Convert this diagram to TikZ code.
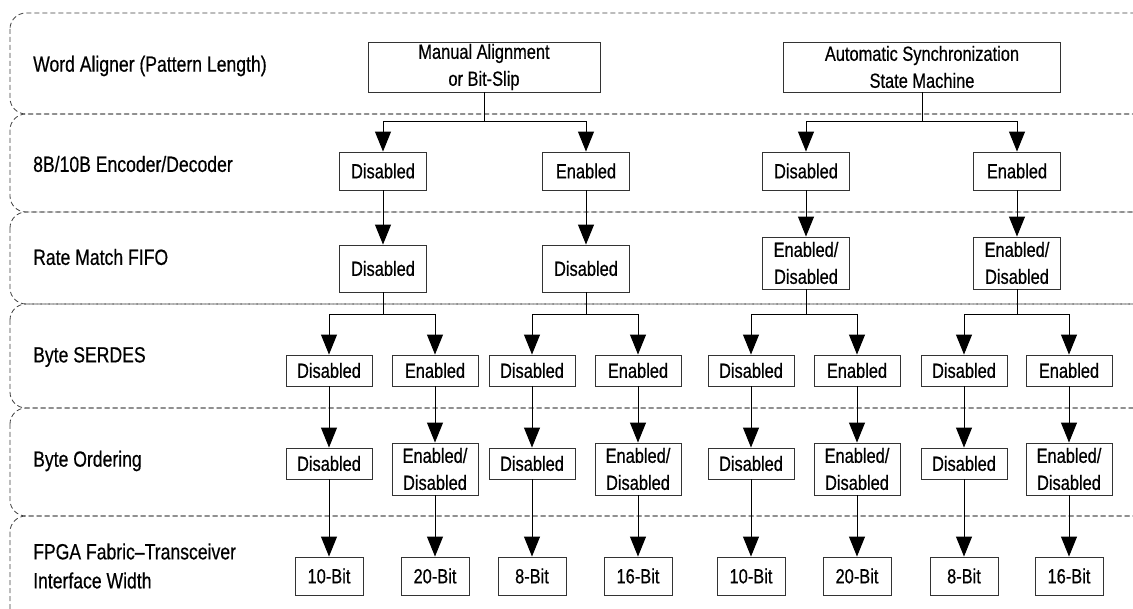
\documentclass[tikz,border=0pt]{standalone}
\usepackage{fontspec}
\setmainfont{Liberation Sans}[FakeStretch=0.8,FakeBold=0.5]
\usetikzlibrary{arrows.meta}
\begin{document}
\begin{tikzpicture}[x=1pt,y=-1pt,
  txt/.style={font=\fontsize{20.5}{27}\selectfont},
  band/.style={draw=black!75, dash pattern=on 5pt off 3pt, line width=0.8pt, rounded corners=16pt},
  box/.style={txt, draw=black!80, line width=0.9pt, inner sep=0pt, align=center},
  hbox/.style={box, minimum height=50pt},
  b87/.style={box, minimum width=87pt},
  bs/.style={box, minimum width=86pt, minimum height=31pt},
  bd/.style={box, minimum width=86pt, minimum height=52pt},
  bw/.style={box, minimum width=68pt, minimum height=38pt},
  lab/.style={font=\fontsize{22}{29}\selectfont, anchor=west, inner sep=0pt, align=left},
  ln/.style={draw=black, line width=1pt},
  arr/.style={ln, -{Triangle[width=16pt,length=20pt]}}]
\useasboundingbox (0,0) rectangle (1133,609);
% bands
\begin{scope}
  \clip (0,0) rectangle (1133,609);
  \draw[band] (10,13) rectangle (1150,114);
  \draw[band] (10,114) rectangle (1150,212);
  \draw[band] (10,212) rectangle (1150,304);
  \draw[band] (10,304) rectangle (1150,408);
  \draw[band] (10,408) rectangle (1150,516);
  \draw[band] (10,516) rectangle (1150,630);
\end{scope}
% labels
\node[lab] (l1) at (33,66) {Word Aligner (Pattern Length)};
\node[lab] (l2) at (33,164) {8B/10B Encoder/Decoder};
\node[lab] (l3) at (33,257) {Rate Match FIFO};
\node[lab] (l4) at (33,357) {Byte SERDES};
\node[lab] (l5) at (33,461) {Byte Ordering};
\node[lab] (l6) at (33,566) {FPGA Fabric--Transceiver\\Interface Width};
% row 1
\node[hbox, minimum width=232pt] (w1) at (484,67) {Manual Alignment\\or Bit-Slip};
\node[hbox, minimum width=277pt] (w2) at (922,67) {Automatic Synchronization\\State Machine};
% row 2
\node[b87, minimum height=38pt] (e1) at (383,171) {Disabled};
\node[b87, minimum height=38pt] (e2) at (586,171) {Enabled};
\node[b87, minimum height=38pt] (e3) at (806,171) {Disabled};
\node[b87, minimum height=38pt] (e4) at (1017,171) {Enabled};
% row 3
\node[b87, minimum height=47pt] (r1) at (383,268.5) {Disabled};
\node[b87, minimum height=47pt] (r2) at (586,268.5) {Disabled};
\node[b87, minimum height=52pt] (r3) at (806,263) {Enabled/\\Disabled};
\node[b87, minimum height=52pt] (r4) at (1017,263) {Enabled/\\Disabled};
% row 4
\node[bs] (s1) at (329,370.5) {Disabled};
\node[bs] (s2) at (435,370.5) {Enabled};
\node[bs] (s3) at (532,370.5) {Disabled};
\node[bs] (s4) at (638,370.5) {Enabled};
\node[bs] (s5) at (751,370.5) {Disabled};
\node[bs] (s6) at (857,370.5) {Enabled};
\node[bs] (s7) at (964,370.5) {Disabled};
\node[bs] (s8) at (1069,370.5) {Enabled};
% row 5
\node[bs] (o1) at (329,463.5) {Disabled};
\node[bd] (o2) at (435,469) {Enabled/\\Disabled};
\node[bs] (o3) at (532,463.5) {Disabled};
\node[bd] (o4) at (638,469) {Enabled/\\Disabled};
\node[bs] (o5) at (751,463.5) {Disabled};
\node[bd] (o6) at (857,469) {Enabled/\\Disabled};
\node[bs] (o7) at (964,463.5) {Disabled};
\node[bd] (o8) at (1069,469) {Enabled/\\Disabled};
% row 6
\node[bw] (f1) at (329,576) {10-Bit};
\node[bw] (f2) at (435,576) {20-Bit};
\node[bw] (f3) at (532,576) {8-Bit};
\node[bw] (f4) at (638,576) {16-Bit};
\node[bw] (f5) at (751,576) {10-Bit};
\node[bw] (f6) at (857,576) {20-Bit};
\node[bw] (f7) at (964,576) {8-Bit};
\node[bw] (f8) at (1069,576) {16-Bit};
% connectors row1 -> row2
\coordinate (k1) at (484,122);
\coordinate (k2) at (922,122);
\draw[ln] (w1.south) -- (k1);
\draw[arr] (k1) -| (e1.north);
\draw[arr] (k1) -| (e2.north);
\draw[ln] (w2.south) -- (k2);
\draw[arr] (k2) -| (e3.north);
\draw[arr] (k2) -| (e4.north);
% row2 -> row3
\foreach \i in {1,2,3,4} { \draw[arr] (e\i.south) -- (r\i.north); }
% row3 -> row4
\coordinate (j1) at (383,315);
\coordinate (j2) at (586,315);
\coordinate (j3) at (806,315);
\coordinate (j4) at (1017,315);
\draw[ln] (r1.south) -- (j1);
\draw[arr] (j1) -| (s1.north);
\draw[arr] (j1) -| (s2.north);
\draw[ln] (r2.south) -- (j2);
\draw[arr] (j2) -| (s3.north);
\draw[arr] (j2) -| (s4.north);
\draw[ln] (r3.south) -- (j3);
\draw[arr] (j3) -| (s5.north);
\draw[arr] (j3) -| (s6.north);
\draw[ln] (r4.south) -- (j4);
\draw[arr] (j4) -| (s7.north);
\draw[arr] (j4) -| (s8.north);
% row4 -> row5 -> row6
\foreach \i in {1,...,8} {
  \draw[arr] (s\i.south) -- (o\i.north);
  \draw[arr] (o\i.south) -- (f\i.north);
}
\end{tikzpicture}
\end{document}
